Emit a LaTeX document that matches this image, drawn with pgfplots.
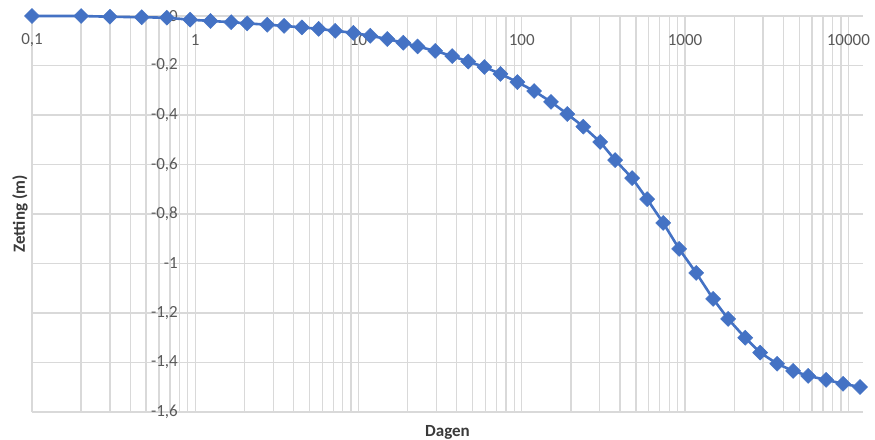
\documentclass[border=0pt]{standalone}
\usepackage{pgfplots}
\pgfplotsset{compat=1.18}
\usepackage{fontspec}
\setmainfont{Carlito}
\definecolor{ser}{HTML}{4472C4}
\definecolor{grd}{HTML}{D9D9D9}
\definecolor{lab}{HTML}{595959}
\definecolor{tit}{HTML}{3A3A3A}
\begin{document}
\begin{tikzpicture}
\useasboundingbox (-32pt,-27pt) rectangle (843pt,412pt);
\begin{axis}[
  at={(0pt,0pt)}, anchor=south west,
  scale only axis, width=831pt, height=396pt,
  xmode=log, xmin=0.1, xmax=12300, ymin=-1.6, ymax=0,
  clip=false,
  axis line style={draw=none},
  major tick length=0pt, minor tick length=0pt,
  xtick={0.1,1,10,100,1000,10000},
  xticklabels={{0,1},1,10,100,1000,10000},
  ytick={-1.6,-1.4,-1.2,-1,-0.8,-0.6,-0.4,-0.2,0},
  yticklabels={{-1,6},{-1,4},{-1,2},{-1},{-0,8},{-0,6},{-0,4},{-0,2},{0}},
  xticklabel pos=upper,
  xticklabel style={anchor=center, yshift=-24pt, inner sep=0pt, font=\fontsize{17}{20}\selectfont, text=lab},
  yticklabel style={anchor=east, xshift=146pt, inner sep=0pt, font=\fontsize{17}{20}\selectfont, text=lab},
  xmajorgrids=true, xminorgrids=true, ymajorgrids=true,
  major grid style={grd, line width=1.3pt},
  minor grid style={grd, line width=1.3pt},
  xlabel={Dagen}, ylabel={Zetting (m)},
  every axis x label/.style={at={(axis description cs:0.5,-0.0505)}, anchor=center, font=\fontsize{17}{20}\selectfont\bfseries, text=tit},
  every axis y label/.style={at={(axis description cs:-0.0144,0.5)}, anchor=center, rotate=90, font=\fontsize{17}{20}\selectfont\bfseries, text=tit},
]
\addplot[ser, line width=2.6pt, mark=square*, mark size=5.3pt, mark options={rotate=45, fill=ser, draw=ser, line width=0.5pt}] coordinates {
(0.1,0) (0.2,0) (0.3,-0.003) (0.47,-0.005) (0.67,-0.007) (0.93,-0.015)
(1.24,-0.02) (1.66,-0.025) (2.08,-0.03) (2.76,-0.035) (3.5,-0.04) (4.5,-0.046)
(5.7,-0.052) (7.2,-0.06) (9.3,-0.068) (11.8,-0.08) (15,-0.093) (18.8,-0.108)
(23,-0.123) (29.5,-0.141) (37.5,-0.162) (47,-0.184) (59,-0.206) (74,-0.234)
(94,-0.267) (119,-0.303) (151,-0.347) (190,-0.396) (238,-0.447) (302,-0.509)
(373,-0.582) (474,-0.655) (586,-0.74) (735,-0.836) (920,-0.941) (1170,-1.038)
(1486,-1.143) (1836,-1.224) (2334,-1.30) (2884,-1.36) (3664,-1.405) (4590,-1.434)
(5675,-1.454) (7310,-1.47) (9290,-1.486) (11800,-1.499)
};
\end{axis}
\end{tikzpicture}
\end{document}
